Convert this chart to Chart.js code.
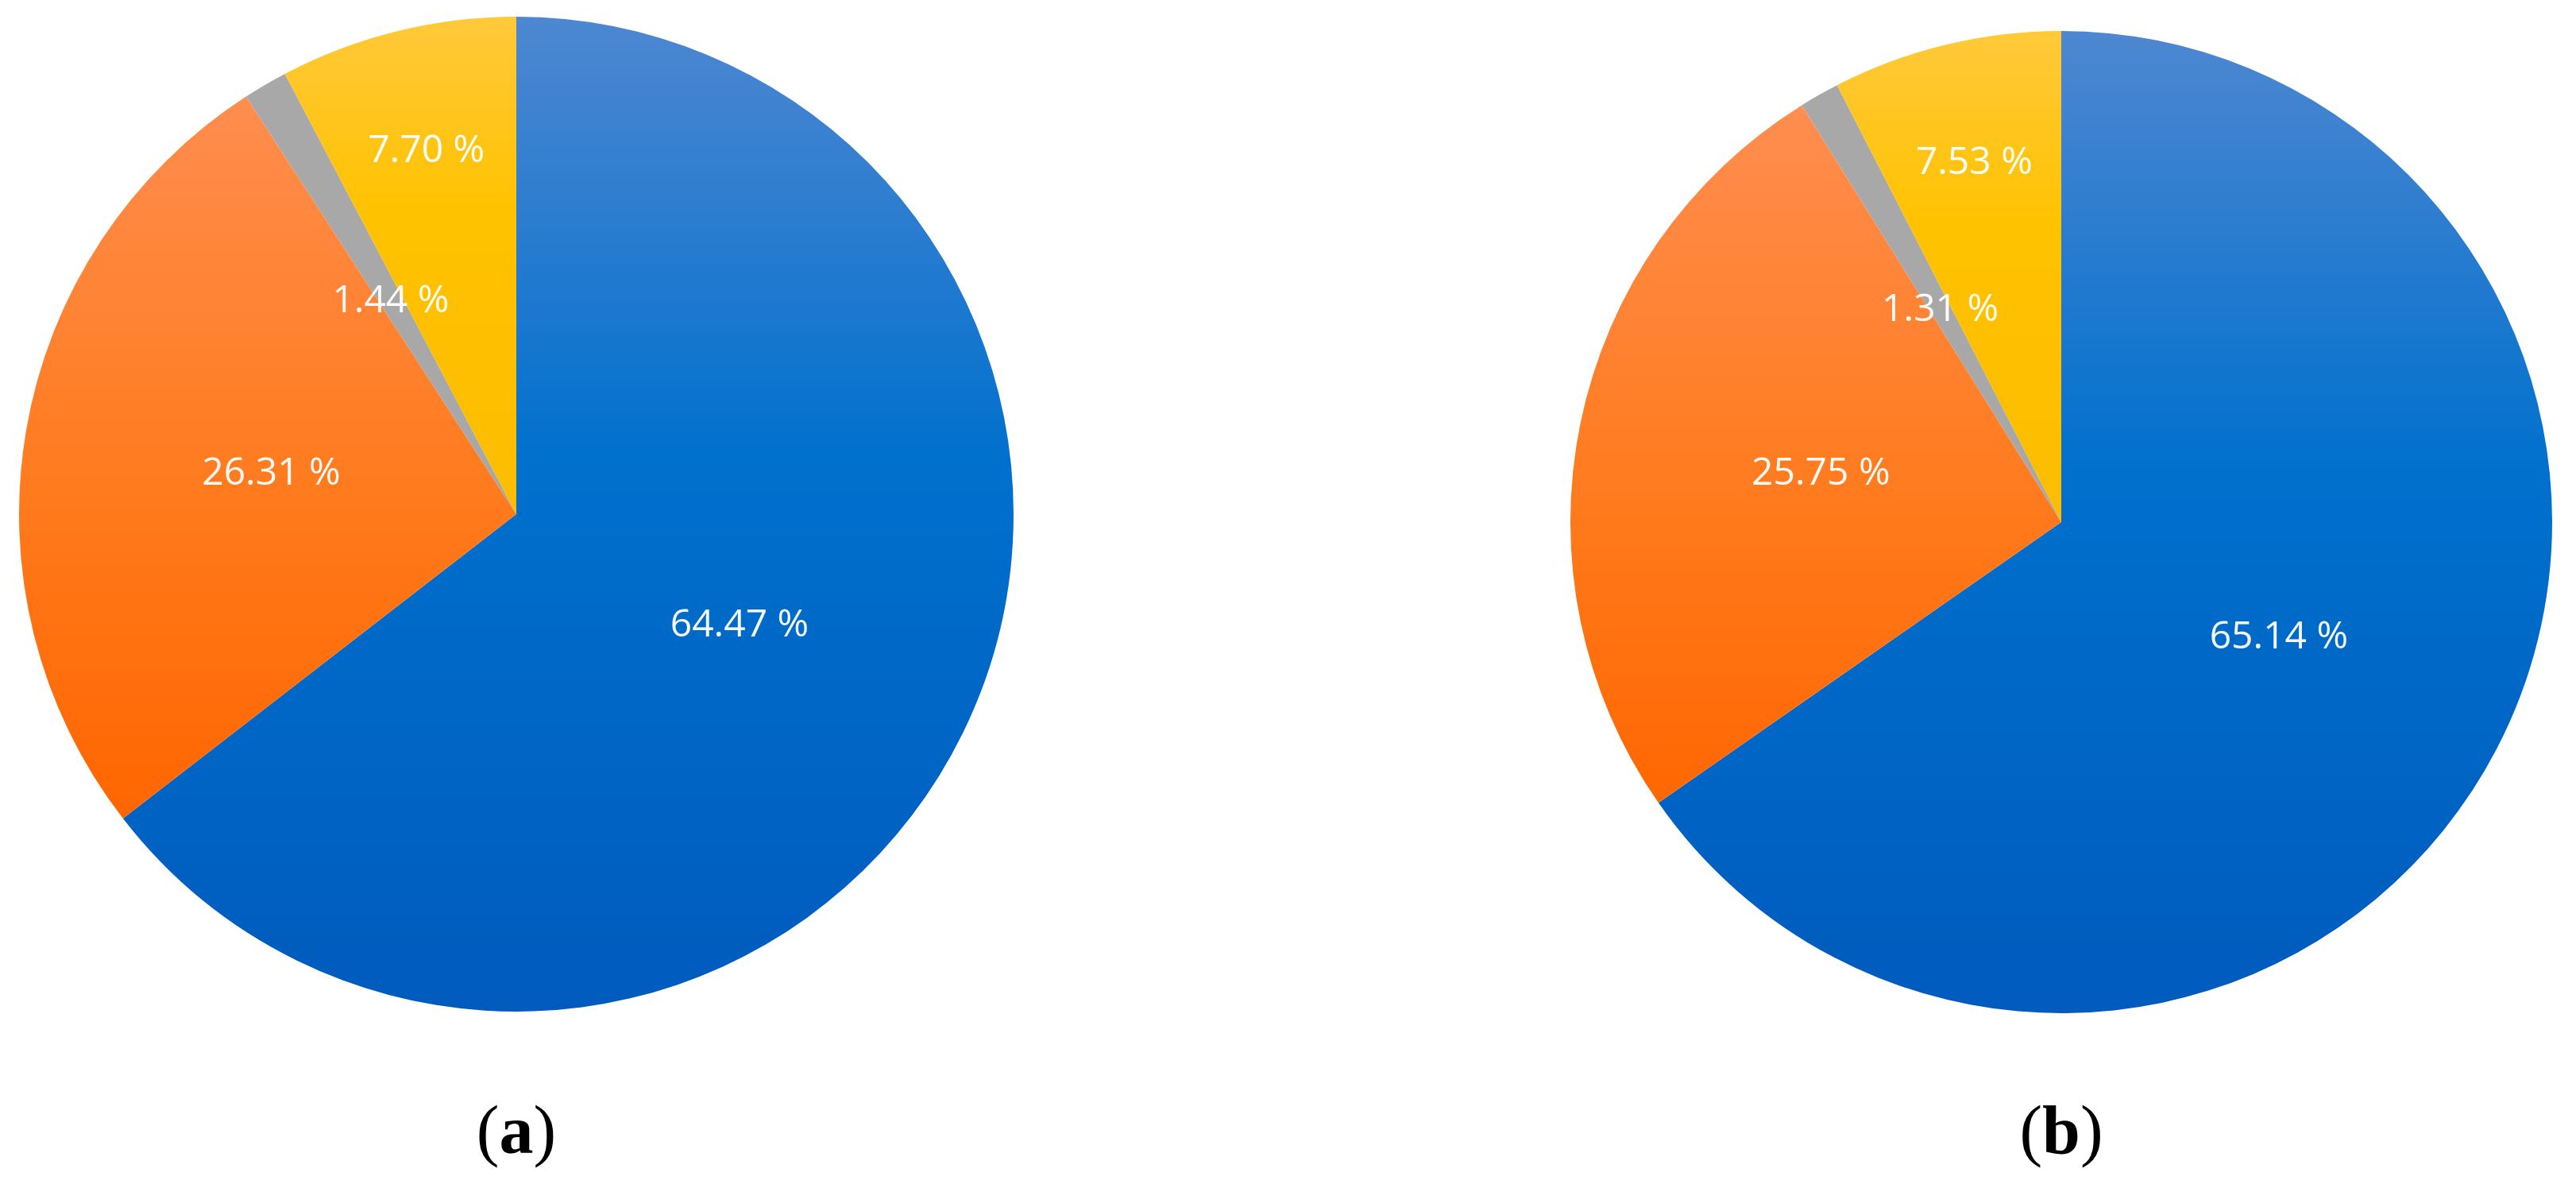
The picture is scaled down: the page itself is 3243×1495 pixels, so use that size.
<!DOCTYPE html>
<html>
<head>
<meta charset="utf-8">
<script src="https://cdn.jsdelivr.net/npm/chart.js@4.4.1/dist/chart.umd.min.js"></script>
<style>
  html, body { margin: 0; padding: 0; background: #fff; }
  body { width: 3243px; height: 1495px; position: relative; overflow: hidden; }
  canvas { position: absolute; }
  #pieA { left: 24px; top: 21px; }
  #pieB { left: 1977px; top: 39px; }
  .panel {
    position: absolute; top: 1372px; width: 400px; text-align: center;
    font-family: "Liberation Serif", "Times New Roman", serif; font-size: 86px; color: #000;
  }
  .panel b { font-weight: bold; }
</style>
</head>
<body>
<canvas id="pieA" width="1252" height="1252"></canvas>
<canvas id="pieB" width="1236" height="1236"></canvas>
<div class="panel" id="labelA" style="left: 450px;"></div>
<div class="panel" id="labelB" style="left: 2395px;"></div>

<script>
// slices, clockwise from 12 o'clock
const categories = ["Share 1", "Share 2", "Share 3", "Share 4"];
const sharesA = [64.47, 26.31, 1.44, 7.70];
const sharesB = [65.14, 25.75, 1.31, 7.53];
const panelLabels = ["a", "b"];

// vertical gradient stops per slice (top -> bottom of the pie)
const gradStops = [
  [[0, "#4e87d1"], [0.45, "#0070cd"], [1, "#005bbd"]],
  [[0, "#ff9a60"], [0.1, "#ff8c4c"], [0.45, "#ff7c20"], [0.8, "#ff6600"], [1, "#ff6000"]],
  [[0, "#a8a8a8"], [1, "#a8a8a8"]],
  [[0, "#ffc93a"], [0.2, "#ffc200"], [0.55, "#fcbb00"], [1, "#f8b800"]]
];

// radial position of each label as a fraction of the radius
const labelRadius = [0.5, 0.5, 0.5, 0.755];

function sliceColor(ctx) {
  const chart = ctx.chart;
  const area = chart.chartArea;
  if (!area) return gradStops[ctx.dataIndex][0][1];
  const g = chart.ctx.createLinearGradient(0, area.top, 0, area.bottom);
  gradStops[ctx.dataIndex].forEach(s => g.addColorStop(s[0], s[1]));
  return g;
}

const pctLabels = {
  id: "pctLabels",
  afterDatasetsDraw(chart) {
    const ctx = chart.ctx;
    const meta = chart.getDatasetMeta(0);
    const values = chart.data.datasets[0].data;
    ctx.save();
    ctx.font = "48px 'Open Sans'";
    ctx.fillStyle = "rgba(255,255,255,0.96)";
    ctx.textAlign = "center";
    ctx.textBaseline = "middle";
    meta.data.forEach((arc, i) => {
      const p = arc.getProps(["x", "y", "startAngle", "endAngle", "outerRadius"], true);
      const mid = (p.startAngle + p.endAngle) / 2;
      const r = p.outerRadius * labelRadius[i];
      ctx.fillText(values[i].toFixed(2) + " %", p.x + Math.cos(mid) * r, p.y + Math.sin(mid) * r + 2);
    });
    ctx.restore();
  }
};

function makePie(id, values) {
  return new Chart(document.getElementById(id), {
    type: "pie",
    data: {
      labels: categories,
      datasets: [{
        data: values,
        backgroundColor: sliceColor,
        borderWidth: 0
      }]
    },
    options: {
      responsive: false,
      animation: false,
      layout: { padding: 0 },
      plugins: {
        legend: { display: false },
        tooltip: { enabled: false }
      }
    },
    plugins: [pctLabels]
  });
}

makePie("pieA", sharesA);
makePie("pieB", sharesB);

document.getElementById("labelA").innerHTML = "(<b>" + panelLabels[0] + "</b>)";
document.getElementById("labelB").innerHTML = "(<b>" + panelLabels[1] + "</b>)";
</script>
</body>
</html>
